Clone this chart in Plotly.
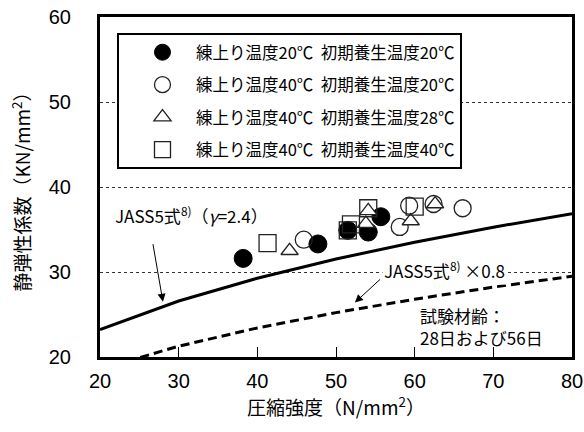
import plotly.graph_objects as go

# ---- data ----
fc_filled = [38.2, 47.7, 51.5, 54.1, 55.7]
e_filled = [31.6, 33.3, 34.9, 34.7, 36.5]

fc_open = [45.9, 58.1, 59.3, 62.4, 66.1]
e_open = [33.8, 35.3, 37.8, 38.0, 37.5]

fc_tri = [44.1, 53.8, 54.1, 59.5, 62.6]
e_tri = [32.5, 35.7, 37.2, 36.0, 38.0]

fc_sq = [41.3, 51.5, 51.9, 54.1, 60.0]
e_sq = [33.4, 34.9, 35.6, 37.5, 37.7]

fc_line = [20, 30, 40, 50, 60, 70, 80]
e_jass = [23.23, 26.59, 29.27, 31.53, 33.50, 35.27, 36.87]
e_jass08 = [18.58, 21.27, 23.42, 25.22, 26.80, 28.22, 29.50]

names = ["練上り温度20℃  初期養生温度20℃",
         "練上り温度40℃  初期養生温度20℃",
         "練上り温度40℃  初期養生温度28℃",
         "練上り温度40℃  初期養生温度40℃"]

x_ticks = [20, 30, 40, 50, 60, 70, 80]
y_ticks = [20, 30, 40, 50, 60]

CJK = "Noto Sans CJK JP"
NUM = "Liberation Sans, Arial, sans-serif"

fig = go.Figure()

fig.add_trace(go.Scatter(x=fc_line, y=e_jass, mode="lines",
                         line=dict(color="black", width=3), showlegend=False))
fig.add_trace(go.Scatter(x=fc_line, y=e_jass08, mode="lines",
                         line=dict(color="black", width=3, dash="9px,5px"), showlegend=False))

mk_line = dict(color="#222222", width=1.3)
fig.add_trace(go.Scatter(x=fc_filled, y=e_filled, mode="markers", name=names[0], legendgroup="a",
                         marker=dict(symbol="circle", size=18, color="black", line=dict(color="black", width=1))))
fig.add_trace(go.Scatter(x=fc_open, y=e_open, mode="markers", name=names[1], legendgroup="b",
                         marker=dict(symbol="circle-open", size=17, color="#222222", line=mk_line)))
fig.add_trace(go.Scatter(x=fc_tri, y=e_tri, mode="markers", name=names[2], legendgroup="c",
                         marker=dict(symbol="triangle-up", size=15, color="white", line=mk_line)))
fig.add_trace(go.Scatter(x=fc_sq, y=e_sq, mode="markers", name=names[3], legendgroup="d",
                         marker=dict(symbol="square-open", size=17, color="#222222", line=mk_line)))

# annotations
fig.add_annotation(x=21.6, y=36.7, xref="x", yref="y", xanchor="left", yanchor="middle",
                   text="JASS5式<sup>8)</sup>（<i>γ</i>=2.4）", showarrow=False,
                   font=dict(family=CJK, size=17, color="black"))
fig.add_annotation(x=28.0, y=26.5, ax=26.7, ay=33.45, xref="x", yref="y", axref="x", ayref="y",
                   text="", showarrow=True, arrowhead=2, arrowsize=1.6, arrowwidth=1, arrowcolor="black")
fig.add_annotation(x=55.8, y=30.2, xref="x", yref="y", xanchor="left", yanchor="middle",
                   text="JASS5式<sup>8)</sup> ×0.8", showarrow=False, bgcolor="white",
                   font=dict(family=CJK, size=17, color="black"))
fig.add_annotation(x=52.4, y=26.4, ax=55.8, ay=29.3, xref="x", yref="y", axref="x", ayref="y",
                   text="", showarrow=True, arrowhead=2, arrowsize=1.6, arrowwidth=1, arrowcolor="black")
fig.add_annotation(x=60.4, y=23.6, xref="x", yref="y", xanchor="left", yanchor="middle", align="left",
                   text="試験材齢：<br>28日および56日", showarrow=False,
                   font=dict(family=CJK, size=17, color="black"))

fig.update_layout(
    width=584, height=432,
    margin=dict(l=100, r=12, t=17, b=75, autoexpand=False),
    plot_bgcolor="white", paper_bgcolor="white",
    showlegend=True,
    legend=dict(x=0.036, y=0.953, xanchor="left", yanchor="top",
                bordercolor="black", borderwidth=2, bgcolor="white",
                font=dict(family=CJK, size=16.5, color="black"),
                traceorder="grouped", tracegroupgap=8, itemwidth=57, indentation=10),
    xaxis=dict(range=[20, 80], tickvals=x_ticks, ticks="inside", ticklen=10, tickwidth=1,
               tickcolor="black", showgrid=False, zeroline=False, automargin=False,
               showline=True, linecolor="black", linewidth=3, mirror=True,
               tickfont=dict(family=NUM, size=20, color="black"), ticklabelstandoff=4,
               title=dict(text="圧縮強度（N/mm<sup>2</sup>）", font=dict(family=CJK, size=19, color="black"), standoff=6)),
    yaxis=dict(range=[20, 60], tickvals=y_ticks, ticks="", showgrid=True, automargin=False,
               gridcolor="#333333", griddash="dot", gridwidth=1, zeroline=False,
               showline=True, linecolor="black", linewidth=3, mirror=True,
               tickfont=dict(family=NUM, size=20, color="black"), ticklabelstandoff=22,
               title=dict(text="静弾性係数（KN/mm<sup>2</sup>）", font=dict(family=CJK, size=19, color="black"), standoff=14)),
)

fig.write_html("out.html")
